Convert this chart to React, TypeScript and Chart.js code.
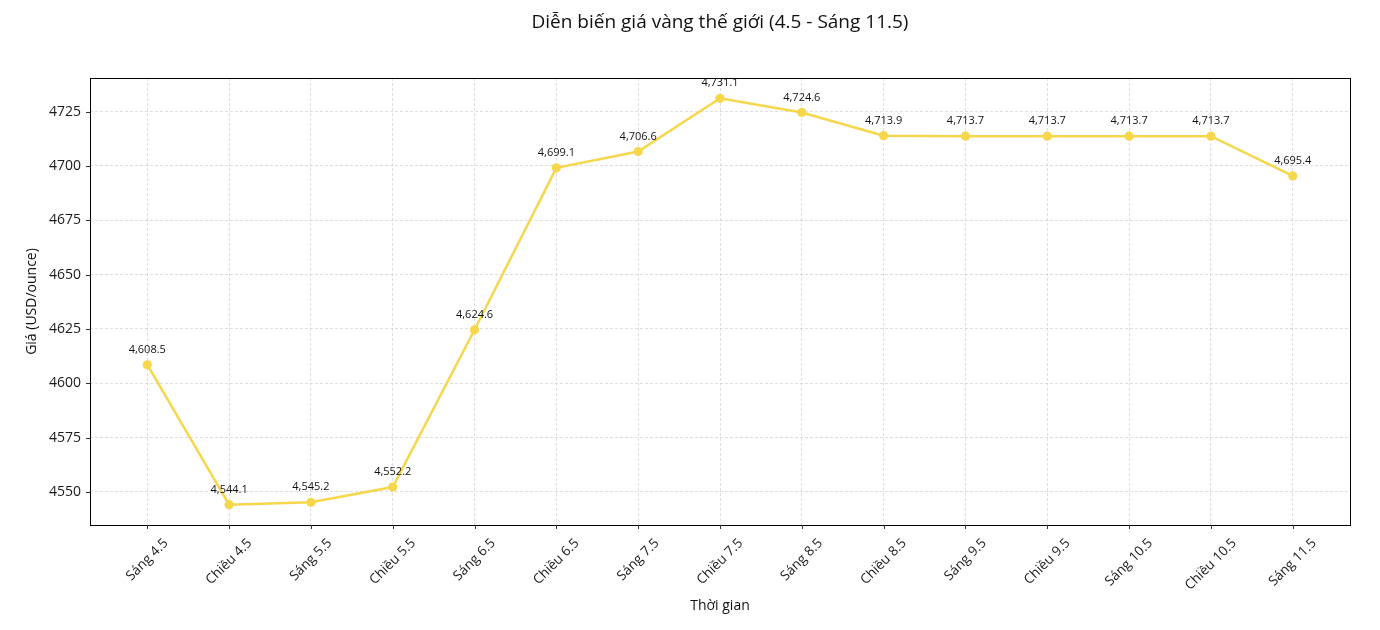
import React, { useEffect, useRef } from "react";
import { Chart, registerables } from "chart.js";

Chart.register(...registerables);

const categories = [
  "Sáng 4.5", "Chiều 4.5", "Sáng 5.5", "Chiều 5.5", "Sáng 6.5",
  "Chiều 6.5", "Sáng 7.5", "Chiều 7.5", "Sáng 8.5", "Chiều 8.5",
  "Sáng 9.5", "Chiều 9.5", "Sáng 10.5", "Chiều 10.5", "Sáng 11.5",
];
const prices = [
  4608.5, 4544.1, 4545.2, 4552.2, 4624.6,
  4699.1, 4706.6, 4731.1, 4724.6, 4713.9,
  4713.7, 4713.7, 4713.7, 4713.7, 4695.4,
];
const yTicks = [4550, 4575, 4600, 4625, 4650, 4675, 4700, 4725];
const titleText = "Diễn biến giá vàng thế giới (4.5 - Sáng 11.5)";
const xTitle = "Thời gian";
const yTitle = "Giá (USD/ounce)";

const FONT = "'Open Sans', Roboto, sans-serif";
const LINE_COLOR = "#F6D74C";

const fmt = (v: number) =>
  v.toLocaleString("en-US", { minimumFractionDigits: 1, maximumFractionDigits: 1 });

const overlay = {
  id: "overlay",
  afterDraw(chart: any) {
    const ctx = chart.ctx;
    const area = chart.chartArea;
    const xs = chart.scales.x;
    const ys = chart.scales.y;
    ctx.save();
    // frame
    ctx.strokeStyle = "#000";
    ctx.lineWidth = 1;
    ctx.setLineDash([]);
    ctx.strokeRect(Math.round(area.left) + 0.5, Math.round(area.top) + 0.5,
      Math.round(area.right - area.left), Math.round(area.bottom - area.top));
    // tick marks
    ctx.strokeStyle = "#333";
    ctx.beginPath();
    categories.forEach((_, i) => {
      const x = Math.round(xs.getPixelForValue(i)) + 0.5;
      ctx.moveTo(x, area.bottom);
      ctx.lineTo(x, area.bottom + 4);
    });
    yTicks.forEach((t) => {
      const y = Math.round(ys.getPixelForValue(t)) + 0.5;
      ctx.moveTo(area.left, y);
      ctx.lineTo(area.left - 4, y);
    });
    ctx.stroke();
    // x tick labels rotated 45, centered
    ctx.fillStyle = "#1a1a1a";
    ctx.font = `13.5px ${FONT}`;
    categories.forEach((c, i) => {
      const x = xs.getPixelForValue(i);
      const w = ctx.measureText(c).width;
      const h = 14;
      const half = (w + h) / Math.SQRT2 / 2;
      ctx.save();
      ctx.translate(x, area.bottom + 11 + half);
      ctx.rotate(-Math.PI / 4);
      ctx.textAlign = "center";
      ctx.textBaseline = "middle";
      ctx.fillText(c, 0, 0);
      ctx.restore();
    });
    // data labels
    ctx.font = `11px ${FONT}`;
    ctx.fillStyle = "#111";
    ctx.textAlign = "center";
    ctx.textBaseline = "middle";
    prices.forEach((v, i) => {
      const x = xs.getPixelForValue(i);
      const y = ys.getPixelForValue(v);
      ctx.fillText(fmt(v), x, y - 15);
    });
    // title
    ctx.font = `19px ${FONT}`;
    ctx.fillStyle = "#111";
    ctx.textBaseline = "alphabetic";
    ctx.fillText(titleText, (area.left + area.right) / 2, 28);
    // axis titles
    ctx.font = `14px ${FONT}`;
    ctx.fillText(xTitle, (area.left + area.right) / 2, 610);
    ctx.save();
    ctx.translate(36, (area.top + area.bottom) / 2);
    ctx.rotate(-Math.PI / 2);
    ctx.fillText(yTitle, 0, 0);
    ctx.restore();
    ctx.restore();
  },
};

export default function App() {
  const ref = useRef<HTMLCanvasElement | null>(null);
  useEffect(() => {
    if (!ref.current) return;
    const n = categories.length;
    const xPad = (n - 1) * 0.05;
    const ymin = Math.min(...prices);
    const ymax = Math.max(...prices);
    const yPad = (ymax - ymin) * 0.05;
    const chart = new Chart(ref.current, {
      type: "line",
      data: {
        datasets: [
          {
            data: prices.map((v, i) => ({ x: i, y: v })),
            borderColor: LINE_COLOR,
            backgroundColor: LINE_COLOR,
            borderWidth: 2.5,
            pointRadius: 4.6,
            pointBorderWidth: 0,
            pointBackgroundColor: LINE_COLOR,
            tension: 0,
            fill: false,
          },
        ],
      },
      options: {
        animation: false,
        responsive: false,
        devicePixelRatio: 1,
        layout: { padding: { top: 78, left: 0, right: 30, bottom: 0 } },
        plugins: {
          legend: { display: false },
          tooltip: { enabled: false },
          title: { display: false },
        },
        scales: {
          x: {
            type: "linear",
            min: -xPad,
            max: n - 1 + xPad,
            afterBuildTicks: (s: any) => {
              s.ticks = categories.map((_, i) => ({ value: i }));
            },
            afterFit: (s: any) => {
              s.height = 105;
            },
            ticks: { display: false },
            grid: {
              drawTicks: false,
              color: "rgba(185,185,185,0.6)",
              lineWidth: 0.8,
            },
            border: { display: false, dash: [3, 2] },
          },
          y: {
            min: ymin - yPad,
            max: ymax + yPad,
            afterBuildTicks: (s: any) => {
              s.ticks = yTicks.map((v) => ({ value: v }));
            },
            afterFit: (s: any) => {
              s.width = 90;
            },
            ticks: {
              padding: 9,
              color: "#1a1a1a",
              font: { family: FONT, size: 14 },
              callback: (v: any) => String(v),
            },
            grid: {
              drawTicks: false,
              color: "rgba(185,185,185,0.6)",
              lineWidth: 0.8,
            },
            border: { display: false, dash: [3, 2] },
          },
        },
      },
      plugins: [overlay],
    } as any);
    return () => chart.destroy();
  }, []);
  return (
    <div style={{ position: "fixed", left: 0, top: 0, width: 1380, height: 630, background: "#fff" }}>
      <canvas ref={ref} width={1380} height={630} style={{ width: 1380, height: 630 }} />
    </div>
  );
}
